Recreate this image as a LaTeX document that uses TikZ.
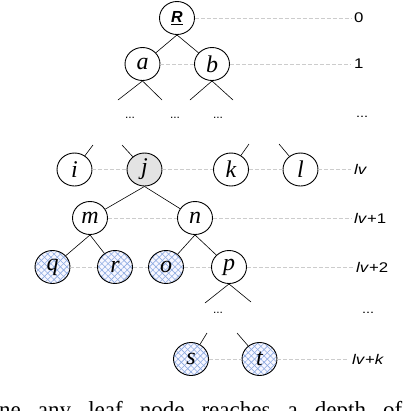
\documentclass[tikz,border=0pt]{standalone}
\usepackage{graphicx}
\usepackage{fontspec}
\setmainfont{Liberation Serif}
\setsansfont{Liberation Sans}
\usetikzlibrary{shapes.geometric,patterns.meta,positioning}

\definecolor{hatch}{RGB}{140,170,225}
\newcommand\widetag[1]{\scalebox{1.2}[1]{#1}}

\begin{document}
\begin{tikzpicture}[x=1pt, y=-1pt,
    nd/.style={ellipse, draw, line width=0.9pt, minimum width=35pt,
               minimum height=33pt, inner sep=0pt,
               font=\fontsize{24}{24}\selectfont\itshape},
    sel/.style={nd, fill=gray!22},
    leaf/.style={nd, preaction={fill=blue!3},
                 preaction={pattern={Lines[angle=45, distance=4.5pt, line width=0.6pt]},
                            pattern color=hatch},
                 preaction={pattern={Lines[angle=-45, distance=4.5pt, line width=0.6pt]},
                            pattern color=hatch}},
    edge/.style={line width=0.6pt},
    lvl/.style={draw=gray!40, dash pattern=on 4pt off 2pt, line width=0.7pt},
    tag/.style={font=\sffamily\fontsize{14}{14}\selectfont, anchor=west, inner sep=3pt},
    dots/.style={font=\sffamily\fontsize{12}{12}\selectfont, inner sep=0pt},
]
\clip (0,0) rectangle (418,410);

%% Niveaux du haut
\node[nd] (R) at (177,18) {\sffamily\bfseries\fontsize{16}{16}\selectfont\underline{R}};
\node[nd] (a) at (142.5,64) {a};
\node[nd] (b) at (212,64) {b};

\coordinate (a1) at (118,100);
\coordinate (a2) at (162,100);
\coordinate (b1) at (190,100);
\coordinate (b2) at (233,100);
\foreach \a/\c in {a/a1, a/a2, b/b1, b/b2}
  \draw[edge] (\a.south) -- (\c);

\node[dots] (d1) at (130,118) {...};
\node[dots] (d2) at (175,118) {...};
\node[dots] (d3) at (218,118) {...};

%% Niveau lv
\node[nd]  (i) at (74.5,169.5) {i};
\node[sel] (j) at (144.5,169.5) {j};
\node[nd]  (k) at (231,169.5) {k};
\node[nd]  (l) at (300.5,169.5) {l};

\coordinate (i1) at (93,145);
\coordinate (j1) at (122,145);
\coordinate (k1) at (249,144);
\coordinate (l1) at (279,144);
\foreach \a/\c in {i/i1, j/j1, k/k1, l/l1}
  \draw[edge] (\a) -- (\c);

%% Sous-arbre de j
\node[nd]   (m) at (90,218) {m};
\node[nd]   (n) at (195,218) {n};
\node[leaf] (q) at (52.5,267) {q};
\node[leaf] (r) at (115,267) {r};
\node[leaf] (o) at (166,267) {o};
\node[nd]   (p) at (229,267) {p};

\foreach \a/\b in {R/a, R/b, j/m, j/n, m/q, m/r, n/o, n/p}
  \draw[edge] (\a.south) -- (\b);

\coordinate (p1) at (205,303);
\coordinate (p2) at (251,302);
\foreach \c in {p1, p2}
  \draw[edge] (p.south) -- (\c);
\node[dots] (d4) at (218,313) {...};

%% Niveau lv+k
\node[leaf] (s) at (191,359) {s};
\node[leaf] (t) at (259.5,359) {t};
\coordinate (s1) at (207,333);
\coordinate (t1) at (237,333);
\foreach \a/\c in {s/s1, t/t1}
  \draw[edge] (\a) -- (\c);

%% Etiquettes des niveaux
\node[tag] (lbl0)  at (351,18)  {\widetag{0}};
\node[tag] (lbl1)  at (351,64)  {\widetag{1}};
\node[dots] (lbld) at (362,117) {\widetag{...}};
\node[tag] (lblv)  at (351,169.5) {\widetag{\textit{lv}}};
\node[tag] (lblv1) at (351,218) {\widetag{\textit{lv}+1}};
\node[tag] (lblv2) at (353,267) {\widetag{\textit{lv}+2}};
\node[dots] (lbld2) at (368,313) {\widetag{...}};
\node[tag] (lblvk) at (349,359) {\widetag{\textit{lv}+\textit{k}}};

\foreach \a/\b in {R/lbl0, a/b, b/lbl1, i/j, j/k, k/l, l/lblv, m/n, n/lblv1,
                   q/r, r/o, o/p, p/lblv2, s/t, t/lblvk}
  \draw[lvl] (\a) -- (\b);

%% Texte coupé en bas
\node[anchor=base west, inner sep=0pt, font=\fontsize{23}{23}\selectfont] (cap)
  at (-1,417) {\makebox[403pt][s]{ne any leaf node reaches a depth of}};

\end{tikzpicture}
\end{document}
